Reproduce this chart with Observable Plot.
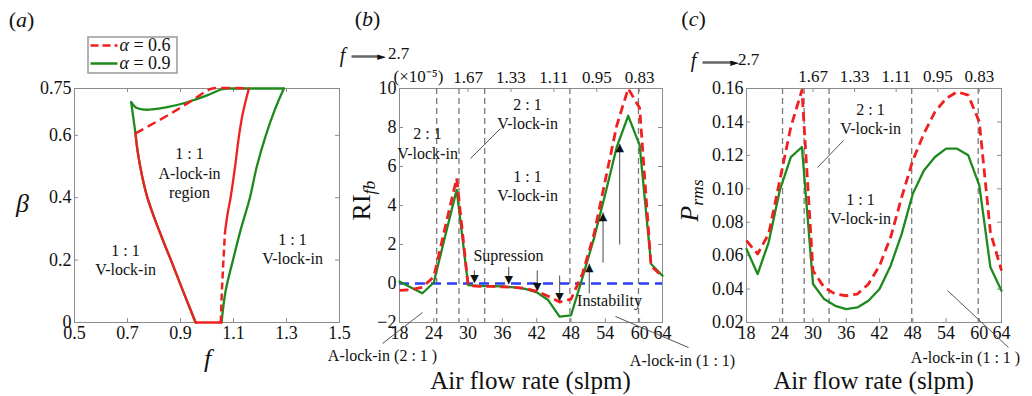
<!DOCTYPE html>
<html><head><meta charset="utf-8">
<script src="https://cdn.jsdelivr.net/npm/d3@7"></script>
<script src="https://cdn.jsdelivr.net/npm/@observablehq/plot@0.6"></script>
<style>
html,body{margin:0;padding:0;background:#fff;}
#wrap{position:relative;width:1032px;height:396px;overflow:hidden;background:#fff;}
#wrap svg{position:absolute;left:0;top:0;}
</style></head><body><div id="wrap"></div>
<script>
// ---------------- DATA ----------------
// Panel (a): lock-in boundaries in (f, beta)
const alpha09Top = [[0.714,0.706],[0.73,0.69],[0.75,0.684],[0.78,0.682],[0.85,0.69],[0.925,0.706],[1.0,0.728],[1.05,0.746],[1.07,0.75]];
const alpha09TopFlat = [[1.07,0.75],[1.29,0.75]];
const alpha09Right = [[1.055,0],[1.07,0.1],[1.098,0.2],[1.128,0.3],[1.162,0.4],[1.188,0.5],[1.222,0.6],[1.255,0.68],[1.29,0.75]];
const alpha09Cusp = [[0.73,0.606],[0.714,0.706]];
const leftBoundary = [[0.957,0],[0.91,0.1],[0.864,0.2],[0.84,0.25],[0.817,0.3],[0.795,0.35],[0.775,0.4],[0.76,0.45],[0.748,0.5],[0.738,0.55],[0.73,0.606]];
const bottomBoundary = [[0.957,0],[1.055,0]];
const alpha06RightLow = [[1.052,0],[1.056,0.1],[1.062,0.2],[1.068,0.29]];
const alpha06RightHigh = [[1.068,0.29],[1.078,0.35],[1.089,0.4],[1.106,0.5],[1.121,0.6],[1.135,0.67],[1.158,0.75]];
const alpha06Top = [[0.73,0.606],[0.86,0.668],[0.95,0.715],[1.0,0.743],[1.02,0.75],[1.158,0.75]];
const fTicksA = [0.5,0.7,0.9,1.1,1.3,1.5];
const betaTicks = [0,0.2,0.4,0.6,0.75];

// Panels (b), (c): vs air flow rate (slpm)
const flow = [18,20,22,24,26,28,30,32,34,36,38,40,42,44,46,48,50,52,54,56,58,60,62,64];
const riAlpha06 = [-0.35,-0.32,-0.2,0.35,2.9,5.4,-0.1,-0.15,-0.15,-0.17,-0.2,-0.25,-0.4,-0.65,-0.95,-0.8,0.5,2.5,5.3,8.1,10.0,9.0,0.9,0.35];
const riAlpha09 = [0.1,-0.2,-0.5,0.05,2.45,4.8,-0.08,-0.12,-0.13,-0.15,-0.2,-0.28,-0.45,-0.85,-1.7,-1.63,0.3,2.3,4.6,7.0,8.6,7.1,1.0,0.4];
const pAlpha06 = [0.069,0.061,0.073,0.105,0.137,0.159,0.051,0.041,0.037,0.036,0.037,0.043,0.054,0.071,0.095,0.117,0.133,0.146,0.154,0.158,0.156,0.140,0.074,0.051];
const pAlpha09 = [0.064,0.049,0.068,0.099,0.119,0.125,0.043,0.034,0.030,0.028,0.029,0.033,0.040,0.054,0.073,0.097,0.111,0.119,0.124,0.124,0.120,0.102,0.053,0.039];
const lockBoundaries = [24.5,28.4,32.9,47.8,59.8];
const flowTicks = [18,24,30,36,42,48,54,60,64];
const riTicks = [-2,0,2,4,6,8,10];
const pTicks = [0.02,0.04,0.06,0.08,0.10,0.12,0.14,0.16];
const fTopTicks = [30,37.5,45,52.5,60];
const fTopLabels = ["1.67","1.33","1.11","0.95","0.83"];
const suppressionArrows = [{x:31.1,from:0.67,to:0.05},{x:37.1,from:0.84,to:-0.02},{x:42.1,from:0.67,to:-0.36},{x:46.0,from:0.41,to:-0.87}];
const instabilityArrows = [{x:51.2,from:-0.51,to:1.03},{x:53.6,from:1.07,to:3.66},{x:56.5,from:2.0,to:7.16}];

// ---------------- STYLE ----------------
const W = 1032, H = 396;
const FONT = "'Liberation Serif','Times New Roman',serif";
const RED = "#f02020", GREEN = "#1e8a1e", BLUE = "#2a3ef5", FRAME = "#8c8c8c", INK = "#111";
const baseStyle = {background:"transparent", fontFamily: FONT, fontSize:"18px", color: INK, overflow:"visible"};
const wrap = document.getElementById("wrap");

function innerTicks(xt, yt, xd, yd, ex, ey, topT) {
  return [
    Plot.ruleX(xt, {x:d=>d, y1: yd[0], y2: yd[0]+ey, stroke: FRAME}),
    Plot.ruleX(topT || xt, {x:d=>d, y1: yd[1]-ey, y2: yd[1], stroke: FRAME}),
    Plot.ruleY(yt, {y:d=>d, x1: xd[0], x2: xd[0]+ex, stroke: FRAME}),
    Plot.ruleY(yt, {y:d=>d, x1: xd[1]-ex, x2: xd[1], stroke: FRAME})
  ];
}
const minusFmt = d => d < 0 ? "\u2212" + Math.abs(d) : String(d);
const P = (data, o) => Plot.line(data, {x:d=>d[0], y:d=>d[1], strokeWidth:2.3, ...o});
const dashed = {strokeWidth:2.5, strokeDasharray:"9,5", strokeLinecap:"butt"};

// ---------------- PANEL (a) ----------------
const pa = Plot.plot({
  width: W, height: H, marginLeft: 74, marginRight: 693, marginTop: 88, marginBottom: 74,
  style: baseStyle,
  x: {domain:[0.5,1.5], ticks: fTicksA, tickFormat: d=>String(d), tickSize:0, tickPadding:4, label:null},
  y: {domain:[0,0.75], ticks: betaTicks, tickFormat: d=>String(d), tickSize:0, tickPadding:3, label:null},
  marks: [
    Plot.frame({stroke: FRAME}),
    ...innerTicks(fTicksA, betaTicks, [0.5,1.5], [0,0.75], 0.015, 0.0128),
    P(alpha09Top, {stroke: GREEN, curve:"catmull-rom"}),
    P(alpha09TopFlat, {stroke: GREEN}),
    P(alpha09Right, {stroke: GREEN, curve:"catmull-rom"}),
    P(alpha09Cusp, {stroke: GREEN}),
    P(leftBoundary, {stroke: GREEN, curve:"catmull-rom"}),
    P(leftBoundary, {stroke: RED, curve:"catmull-rom"}),
    P(bottomBoundary, {stroke: RED}),
    P(alpha06RightHigh, {stroke: RED, curve:"catmull-rom"}),
    P(alpha06RightLow, {stroke: RED, ...dashed, strokeDasharray:"7,4"}),
    P(alpha06Top, {stroke: RED, ...dashed, curve:"catmull-rom"})
  ]
});

// ---------------- PANEL (b) ----------------
const rowsB = flow.map((q,i)=>({q, red: riAlpha06[i], green: riAlpha09[i]}));
const pb = Plot.plot({
  width: W, height: H, marginLeft: 399, marginRight: 370, marginTop: 88, marginBottom: 74,
  style: baseStyle,
  x: {domain:[18,64], ticks: flowTicks, tickFormat: d=>String(d), tickSize:0, tickPadding:4, label:null},
  y: {domain:[-2,10], ticks: riTicks, tickFormat: minusFmt, tickSize:0, tickPadding:3, label:null},
  marks: [
    Plot.frame({stroke: FRAME}),
    ...innerTicks(flowTicks, riTicks, [18,64], [-2,10], 0.7, 0.2, fTopTicks),
    Plot.ruleX(lockBoundaries, {x:d=>d, stroke:"#7a7a7a", strokeWidth:1.3, strokeDasharray:"6,4"}),
    Plot.ruleY([0], {y:d=>d, stroke: BLUE, strokeWidth:2.3, strokeDasharray:"10,6"}),
    Plot.line(rowsB, {x:"q", y:"green", stroke: GREEN, strokeWidth:2.3}),
    Plot.line(rowsB, {x:"q", y:"red", stroke: RED, strokeWidth:2.8, strokeDasharray:"9,5", strokeLinecap:"butt"}),
    Plot.link(suppressionArrows, {x1:"x", x2:"x", y1:"from", y2:"to", stroke:"#666", strokeWidth:1.2}),
    Plot.text(suppressionArrows, {x:"x", y:"to", text:()=>"\u25BC", fontFamily:"DejaVu Sans", fontSize:11, dy:-4, fill:INK}),
    Plot.link(instabilityArrows, {x1:"x", x2:"x", y1:"from", y2:"to", stroke:"#666", strokeWidth:1.2}),
    Plot.text(instabilityArrows, {x:"x", y:"to", text:()=>"\u25B2", fontFamily:"DejaVu Sans", fontSize:11, dy:4, fill:INK}),
    Plot.text(fTopTicks, {x:d=>d, y:()=>10, text: fTopLabels, dy:-11, fontSize:17, fill:INK})
  ]
});

// ---------------- PANEL (c) ----------------
const rowsC = flow.map((q,i)=>({q, red: pAlpha06[i], green: pAlpha09[i]}));
const pc = Plot.plot({
  width: W, height: H, marginLeft: 746, marginRight: 31, marginTop: 88, marginBottom: 74,
  style: baseStyle,
  x: {domain:[18,64], ticks: flowTicks, tickFormat: d=>String(d), tickSize:0, tickPadding:4, label:null},
  y: {domain:[0.02,0.16], ticks: pTicks, tickFormat: d3.format(".2f"), tickSize:0, tickPadding:3, label:null},
  marks: [
    Plot.frame({stroke: FRAME}),
    ...innerTicks(flowTicks, pTicks, [18,64], [0.02,0.16], 0.72, 0.0024, fTopTicks),
    Plot.ruleX(lockBoundaries, {x:d=>d, stroke:"#7a7a7a", strokeWidth:1.3, strokeDasharray:"6,4"}),
    Plot.line(rowsC, {x:"q", y:"green", stroke: GREEN, strokeWidth:2.3}),
    Plot.line(rowsC, {x:"q", y:"red", stroke: RED, strokeWidth:2.8, strokeDasharray:"9,5", strokeLinecap:"butt"}),
    Plot.text(fTopTicks, {x:d=>d, y:()=>0.16, text: fTopLabels, dy:-12, fontSize:17, fill:INK})
  ]
});

// ---------------- OVERLAY (titles, labels, legend, leaders) ----------------
const T = (t, x, y, o={}) => Plot.text([{t,x,y}], {x:"x", y:"y", text:"t", fontSize:16, fill:INK, ...o});
const L = (x1,y1,x2,y2,o={}) => Plot.link([{x1,y1,x2,y2}], {x1:"x1", y1:"y1", x2:"x2", y2:"y2", stroke:"#555", strokeWidth:1, ...o});
const ov = Plot.plot({
  width: W, height: H, margin: 0,
  x: {domain:[0,W], range:[0,W], axis:null},
  y: {domain:[0,H], range:[0,H], axis:null},
  style: {background:"transparent", fontFamily: FONT, overflow:"visible"},
  marks: [
    // panel titles
    T("(*a*)", 21, 19, {fontSize:22}),
    T("(*b*)", 367, 18, {fontSize:22}),
    T("(*c*)", 693, 18, {fontSize:22}),
    // legend
    Plot.rect([{}], {x1:()=>88, x2:()=>177, y1:()=>37, y2:()=>73, fill:"white", stroke:"#999", strokeWidth:1.5}),
    L(90,45,117,45, {stroke: RED, strokeWidth:2.5, strokeDasharray:"8,4"}),
    L(90,63,117,63, {stroke: GREEN, strokeWidth:2.5}),
    T("*\u03B1* = 0.6", 119, 45, {fontSize:18, textAnchor:"start"}),
    T("*\u03B1* = 0.9", 119, 63, {fontSize:18, textAnchor:"start"}),
    // panel (a) axis labels and regions
    T("\u03B2", 22, 203, {fontSize:26, fontStyle:"italic"}),
    T("f", 207, 358, {fontSize:26, fontStyle:"italic"}),
    T("1 : 1\nA-lock-in\nregion", 189, 172, {lineHeight:1.2}),
    T("1 : 1\nV-lock-in", 125, 258.5, {lineHeight:1.2}),
    T("1 : 1\nV-lock-in", 292, 247.5, {lineHeight:1.2}),
    // panel (b)
    T("f", 342, 55, {fontSize:20, fontStyle:"italic"}),
    L(351,56,379,56, {stroke:"#666", strokeWidth:2.5}),
    T("\u25BA", 381, 56, {fontFamily:"DejaVu Sans", fontSize:11}),
    T("2.7", 398, 53, {fontSize:17}),
    T("(\u00D710\u207B\u2075)", 418, 76, {fontSize:17}),
    Plot.text([{t:"RI_{fb}", x:361, y:200}], {x:"x", y:"y", text:"t", rotate:-90, fontSize:26, fill:INK}),
    T("Air flow rate (slpm)", 530, 380, {fontSize:25}),
    T("2 : 1\nV-lock-in", 427, 142, {lineHeight:1.25}),
    T("2 : 1\nV-lock-in", 527, 112.5, {lineHeight:1.2}),
    T("1 : 1\nV-lock-in", 527, 185, {lineHeight:1.2}),
    L(470,158,500,128),
    T("Supression", 508, 255),
    T("Instability", 609, 300),
    L(422,312,382,343),
    T("A-lock-in (2 : 1 )", 382, 355),
    L(615,316,688,347),
    T("A-lock-in (1 : 1)", 682, 360),
    // panel (c)
    T("f", 693, 60, {fontSize:20, fontStyle:"italic"}),
    L(702,62,732,62, {stroke:"#666", strokeWidth:2.5}),
    T("\u25BA", 734, 62, {fontFamily:"DejaVu Sans", fontSize:11}),
    T("2.7", 748, 59, {fontSize:17}),
    Plot.text([{t:"*P*_{rms}", x:689, y:200}], {x:"x", y:"y", text:"t", rotate:-90, fontSize:26, fill:INK}),
    T("Air flow rate (slpm)", 873, 380, {fontSize:25}),
    T("2 : 1\nV-lock-in", 870, 118, {lineHeight:1.2}),
    L(817,167,843,140),
    T("1 : 1\nV-lock-in", 860, 207.5, {lineHeight:1.2}),
    L(947,290,1008,347),
    T("A-lock-in (1 : 1 )", 965, 357)
  ]
});

// rich text: *italic*, _{subscript}
function richify(svg) {
  d3.select(svg).selectAll("text").each(function() {
    if (this.querySelector("tspan")) return;
    const t = this.textContent;
    if (!/[*]|_\{/.test(t)) return;
    const sel = d3.select(this); sel.text(null);
    const re = /\*([^*]+)\*|_\{([^}]+)\}|([^*_]+)/g; let m;
    while ((m = re.exec(t))) {
      if (m[1]) sel.append("tspan").attr("font-style","italic").text(m[1]);
      else if (m[2]) sel.append("tspan").attr("font-style","italic").attr("font-size","0.68em").attr("dy","0.3em").text(m[2]);
      else sel.append("tspan").text(m[3]);
    }
  });
}
richify(ov);
[pa, pb, pc, ov].forEach(s => wrap.appendChild(s));
</script></body></html>
